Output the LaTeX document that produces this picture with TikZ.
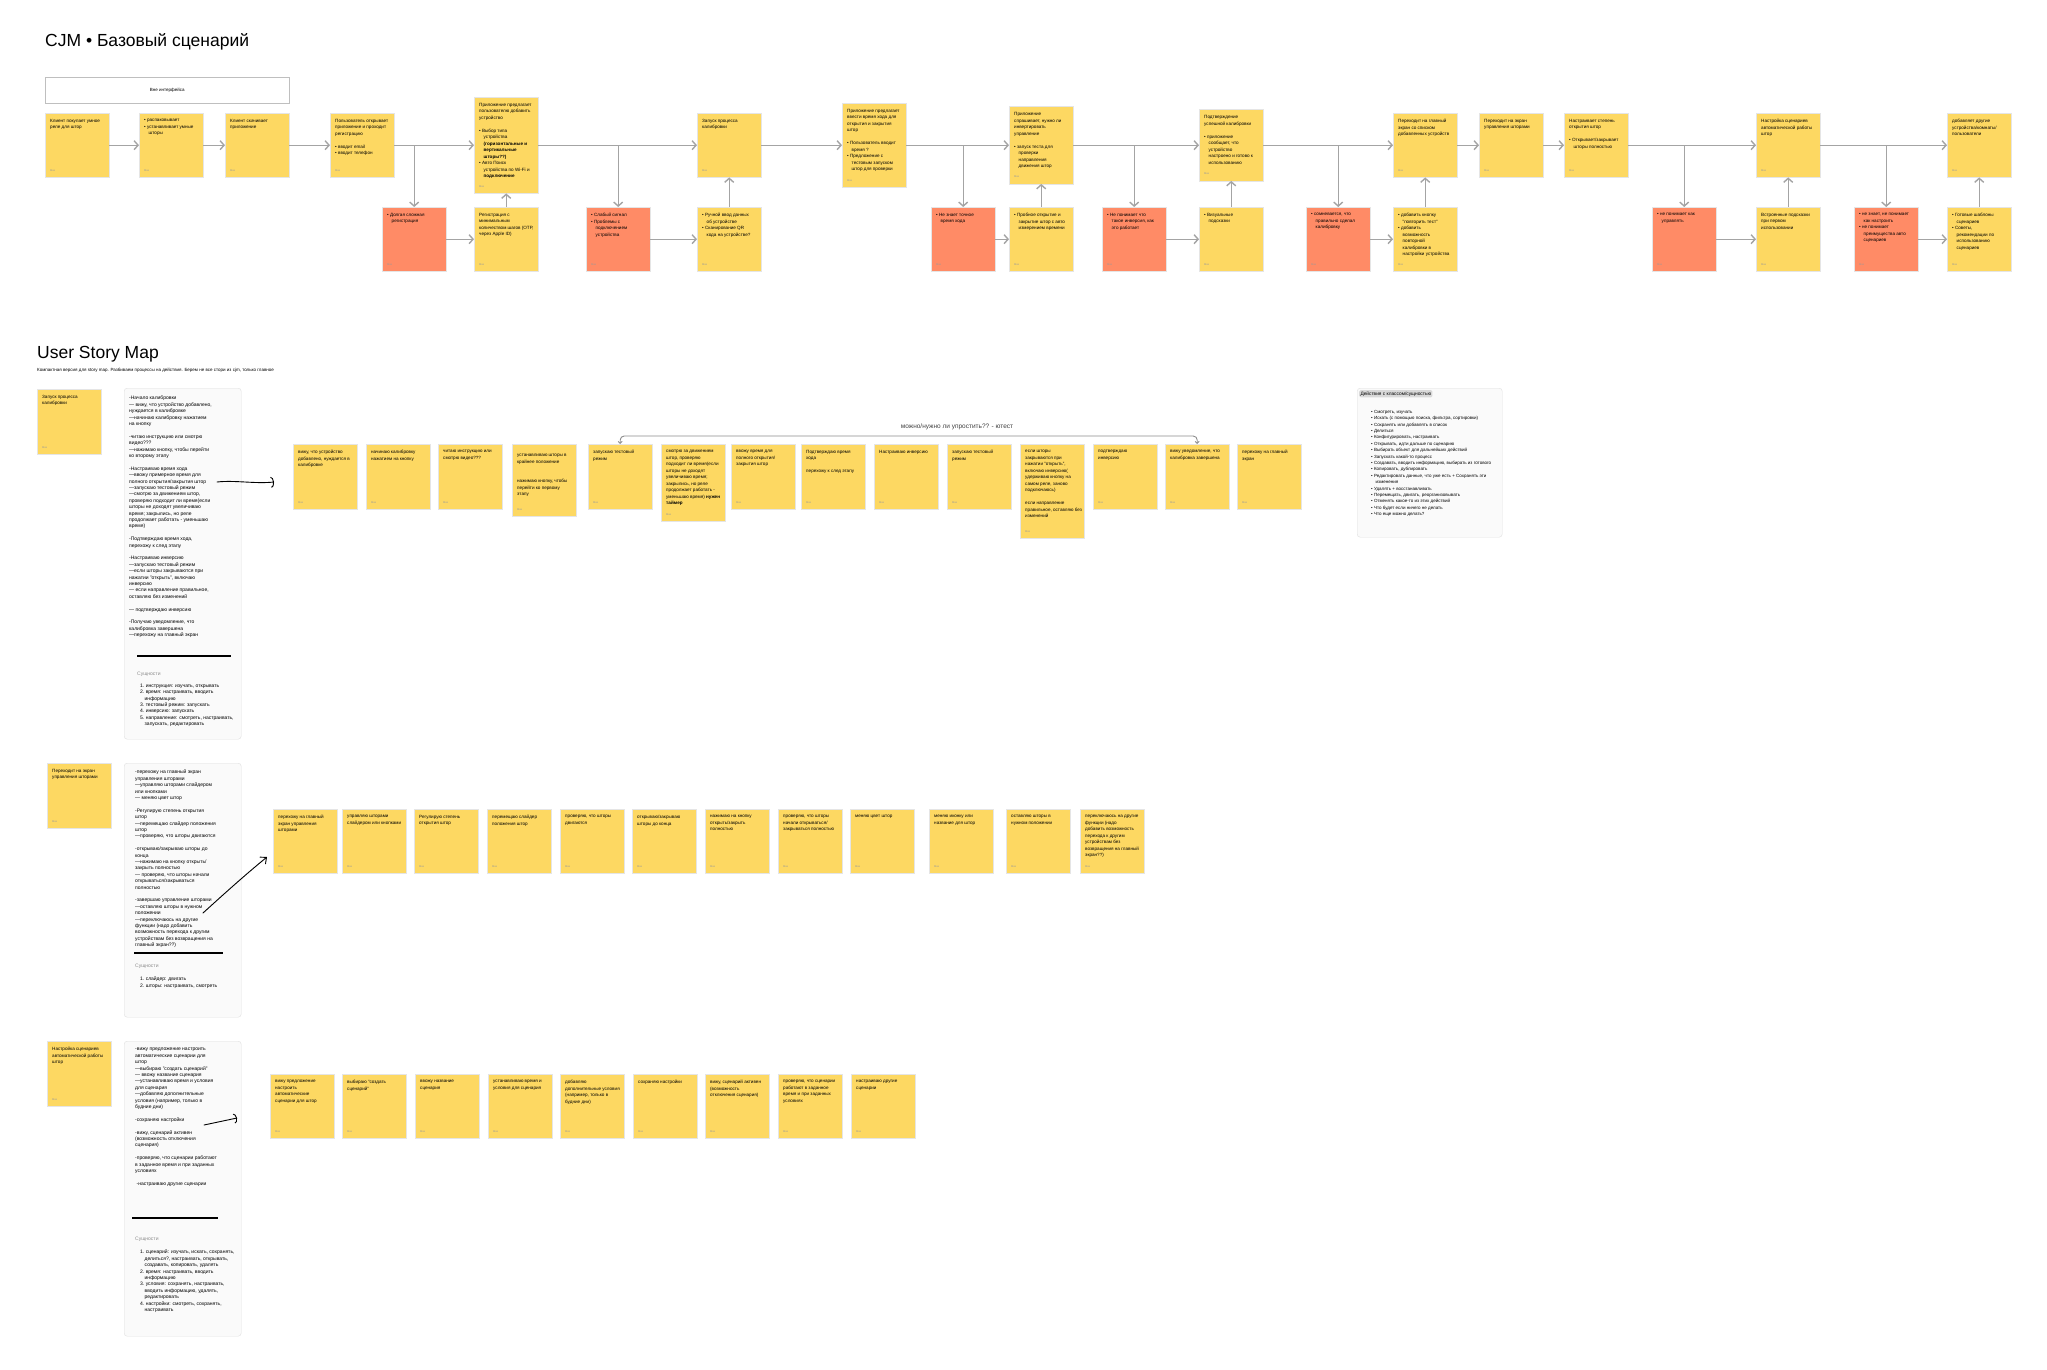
\documentclass[tikz,border=0pt]{standalone}
\usepackage{fontspec}
\setmainfont{Liberation Sans}
\usetikzlibrary{arrows.meta}
\definecolor{stky}{HTML}{FDD862}
\definecolor{redst}{HTML}{FF8B66}
\definecolor{arw}{HTML}{A4A4A4}
\definecolor{pnl}{HTML}{FAFAFA}
\newcommand{\ind}{\hspace*{4.5pt}}
\begin{document}
\begin{tikzpicture}[x=1pt,y=-1pt,
  st/.style={anchor=north west,fill=stky,draw=black!10,minimum width=64pt,minimum height=#1,inner sep=0pt,label={[tg]south west:Max}},
  st/.default=64pt,
  rd/.style={st,fill=redst},
  sm/.style={st=65pt},
  tx/.style={anchor=north west,align=left,inner sep=0pt,xshift=5pt,yshift=-6pt,font=\fontsize{4.6}{6.5}\selectfont},
  tg/.style={anchor=south west,inner sep=0pt,xshift=5pt,yshift=6pt,text=black!40,font=\fontsize{2.6}{3}\selectfont},
  ar/.style={draw=arw,line width=1.4pt,-{Straight Barb[length=4pt,width=9pt]}},
  pn/.style={anchor=north west,fill=pnl,draw=black!12,rounded corners=3pt,minimum width=117pt,inner sep=0pt,minimum height=#1},
  pt/.style={anchor=north west,align=left,inner sep=0pt,font=\fontsize{5}{6.4}\selectfont},
  hd/.style={line width=.9pt,line cap=round},
  rl/.style={line width=1.6pt}]
\fill[white] (0,0) rectangle (2047,1370);
\useasboundingbox (0,0) rectangle (2047,1370);

% CJM
\node[anchor=base west,inner sep=0pt,font=\fontsize{17.5}{20}\selectfont] (ttl) at (45,47) {CJM • Базовый сценарий};
\node[anchor=north west,draw=black!25,minimum width=244pt,minimum height=26pt,inner sep=0pt,font=\fontsize{4.5}{5}\selectfont] (vi) at (45,77) {Вне интерфейса};

\node[st] (c1) at (45,113) {}; \draw (c1.north west) node[tx] {Клиент покупает умное\\реле для штор};
\node[st] (c2) at (139,113) {}; \draw (c2.north west) node[tx] {• распаковывает\\• устанавливает умные\\\ind шторы};
\node[st] (c3) at (225,113) {}; \draw (c3.north west) node[tx] {Клиент скачивает\\приложение};
\node[st] (c4) at (330,113) {}; \draw (c4.north west) node[tx] {Пользователь открывает\\приложение и проходит\\регистрацию\\[6.5pt]• вводит email\\• вводит телефон};
\node[st=96pt] (c5) at (474,97) {}; \draw (c5.north west) node[tx] {Приложение предлагает\\пользователю добавить\\устройство\\[6.5pt]• Выбор типа\\\ind устройства\\\ind\textbf{(горизонтальные и}\\\ind\textbf{вертикальные}\\\ind\textbf{шторы??)}\\• Авто Поиск\\\ind устройства по Wi-Fi и\\\ind\textbf{подключение}};
\node[st] (c6) at (697,113) {}; \draw (c6.north west) node[tx] {Запуск процесса\\калибровки};
\node[st=84pt] (c7) at (842,103) {}; \draw (c7.north west) node[tx] {Приложение предлагает\\ввести время хода для\\открытия и закрытия\\штор\\[6.5pt]• Пользователь вводит\\\ind время ?\\• Предложение с\\\ind тестовым запуском\\\ind штор для проверки};
\node[st=77pt] (c8) at (1009,106.5) {}; \draw (c8.north west) node[tx] {Приложение\\спрашивает, нужно ли\\инвертировать\\управление\\[6.5pt]• запуск теста для\\\ind проверки\\\ind направления\\\ind движения штор};
\node[st=71pt] (c9) at (1199,109.5) {}; \draw (c9.north west) node[tx] {Подтверждение\\успешной калибровки\\[6.5pt]• приложение\\\ind сообщает, что\\\ind устройство\\\ind настроено и готово к\\\ind использованию};
\node[st] (c10) at (1393,113) {}; \draw (c10.north west) node[tx] {Переходит на главный\\экран со списком\\добавленных устройств};
\node[st] (c11) at (1479,113) {}; \draw (c11.north west) node[tx] {Переходит на экран\\управления шторами};
\node[st] (c12) at (1564,113) {}; \draw (c12.north west) node[tx] {Настраивает степень\\открытия штор\\[6.5pt]• Открывает/закрывает\\\ind шторы полностью};
\node[st] (c13) at (1756,113) {}; \draw (c13.north west) node[tx] {Настройка сценариев\\автоматической работы\\штор};
\node[st] (c14) at (1947,113) {}; \draw (c14.north west) node[tx] {добавляет другие\\устройства/комнаты/\\пользователи};

\node[rd] (r1) at (382,207) {}; \draw (r1.north west) node[tx] {• Долгая сложная\\\ind регистрация};
\node[st] (y1) at (474,207) {}; \draw (y1.north west) node[tx] {Регистрация с\\минимальным\\количеством шагов (OTP,\\через Apple ID)};
\node[rd] (r2) at (586,207) {}; \draw (r2.north west) node[tx] {• Слабый сигнал\\• Проблемы с\\\ind подключением\\\ind устройства};
\node[st] (y2) at (697,207) {}; \draw (y2.north west) node[tx] {• Ручной ввод данных\\\ind об устройстве\\• Сканирование QR\\\ind кода на устройстве?};
\node[rd] (r3) at (931,207) {}; \draw (r3.north west) node[tx] {• Не знает точное\\\ind время хода};
\node[st] (y3) at (1009,207) {}; \draw (y3.north west) node[tx] {• Пробное открытие и\\\ind закрытие штор с авто\\\ind измерением времени};
\node[rd] (r4) at (1102,207) {}; \draw (r4.north west) node[tx] {• Не понимает что\\\ind такое инверсия, как\\\ind это работает};
\node[st] (y4) at (1199,207) {}; \draw (y4.north west) node[tx] {• Визуальные\\\ind подсказки};
\node[rd] (r5) at (1306,207) {}; \draw (r5.north west) node[tx] {• сомневается, что\\\ind правильно сделал\\\ind калибровку};
\node[st] (y5) at (1393,207) {}; \draw (y5.north west) node[tx] {• добавить кнопку\\\ind "повторить тест"\\• добавить\\\ind возможность\\\ind повторной\\\ind калибровки в\\\ind настройки устройства};
\node[rd] (r6) at (1652,207) {}; \draw (r6.north west) node[tx] {• не понимает как\\\ind управлять};
\node[st] (y6) at (1756,207) {}; \draw (y6.north west) node[tx] {Встроенные подсказки\\при первом\\использовании};
\node[rd] (r7) at (1854,207) {}; \draw (r7.north west) node[tx] {• не знает, не понимает\\\ind как настроить\\• не понимает\\\ind преимущества авто\\\ind сценариев};
\node[st] (y7) at (1947,207) {}; \draw (y7.north west) node[tx] {• Готовые шаблоны\\\ind сценариев\\• Советы,\\\ind рекомендации по\\\ind использованию\\\ind сценариев};

\foreach \a/\b in {c1/c2,c2/c3,c3/c4,c4/c5,c5/c6,c6/c7,c7/c8,c8/c9,c9/c10,c10/c11,c11/c12,c12/c13,c13/c14}
  \draw[ar] (\a) -- (\b);
\foreach \a/\r/\y/\b in {c4/r1/y1/c5,c5/r2/y2/c6,c7/r3/y3/c8,c8/r4/y4/c9,c9/r5/y5/c10,c12/r6/y6/c13,c13/r7/y7/c14}{
  \draw[ar] (\r.north |- \a.east) -- (\r);
  \draw[ar] (\r) -- (\y);
  \draw[ar] (\y) -- (\b);
}

% User Story Map
\node[anchor=base west,inner sep=0pt,font=\fontsize{17.5}{20}\selectfont] (usm) at (37,358) {User Story Map};
\node[anchor=base west,inner sep=0pt,font=\fontsize{4.5}{5}\selectfont] (sub) at (37,371) {Компактная версия для story map. Разбиваем процессы на действия. Берем не все стори из cjm, только главное};

\node[sm] (a0) at (37,389) {}; \draw (a0.north west) node[tx] {Запуск процесса\\калибровки};
\node[pn=351pt] (p1) at (124,388) {};
\draw (p1.north west) ++(5,8) node[pt] {-Начало калибровки\\— вижу, что устройство добавлено,\\нуждается в калибровке\\—начинаю калибровку нажатием\\на кнопку\\[6.4pt]-читаю инструкцию или смотрю\\видео???\\—нажимаю кнопку, чтобы перейти\\ко второму этапу\\[6.4pt]-Настраиваю время хода\\—ввожу примерное время для\\полного открытия/закрытия штор\\—запускаю тестовый режим\\—смотрю за движением штор,\\проверяю подходит ли время(если\\шторы не доходят увеличиваю\\время; закрылись, но реле\\продолжает работать - уменьшаю\\время)\\[6.4pt]-Подтверждаю время хода,\\перехожу к след этапу\\[6.4pt]-Настраиваю инверсию\\—запускаю тестовый режим\\—если шторы закрываются при\\нажатии "открыть", включаю\\инверсию\\— если направление правильное,\\оставляю без изменений\\[6.4pt]— подтверждаю инверсию\\[6.4pt]-Получаю уведомление, что\\калибровка завершена\\—перехожу на главный экран};
\draw[rl] (137,656) -- (231,656);
\node[pt,text=black!45] (e1) at (137,672) {Сущности};
\node[pt,font=\fontsize{5}{6.3}\selectfont] (l1) at (140,684) {1.\ инструкция: изучать, открывать\\2.\ время: настраивать, вводить\\\ind информацию\\3.\ тестовый режим: запускать\\4.\ инверсию: запускать\\5.\ направление: смотреть, настраивать,\\\ind запускать, редактировать};
\coordinate (h1a) at (217,482); \coordinate (h1b) at (274,482);
\draw[hd,-{Arc Barb[length=3pt,width=11pt]}] (h1a) .. controls (235,480) and (255,484) .. (h1b);

\node[sm] (s1) at (293,444) {}; \draw (s1.north west) node[tx] {вижу, что устройство\\добавлено, нуждается в\\калибровке};
\node[sm] (s2) at (366,444) {}; \draw (s2.north west) node[tx] {начинаю калибровку\\нажатием на кнопку};
\node[sm] (s3) at (438,444) {}; \draw (s3.north west) node[tx] {читаю инструкцию или\\смотрю видео???};
\node[st=72pt] (s4) at (512,444) {}; \draw (s4.north west) node[tx] {\\устанавливаю шторы в\\крайнее положение\\[13pt]нажимаю кнопку, чтобы\\перейти ко первому\\этапу};
\node[sm] (s5) at (588,444) {}; \draw (s5.north west) node[tx] {запускаю тестовый\\режим};
\node[st=77pt] (s6) at (661,444) {}; \draw (s6.north west) node[tx] {смотрю за движением\\штор, проверяю\\подходит ли время(если\\шторы не доходят\\увеличиваю время;\\закрылись, но реле\\продолжает работать -\\уменьшаю время) \textbf{нужен}\\\textbf{таймер}};
\node[sm] (s7) at (731,444) {}; \draw (s7.north west) node[tx] {ввожу время для\\полного открытия/\\закрытия штор};
\node[sm] (s8) at (801,444) {}; \draw (s8.north west) node[tx] {Подтверждаю время\\хода\\[6.5pt]перехожу к след этапу};
\node[sm] (s9) at (874,444) {}; \draw (s9.north west) node[tx] {Настраиваю инверсию};
\node[sm] (s10) at (947,444) {}; \draw (s10.north west) node[tx] {запускаю тестовый\\режим};
\node[st=94pt] (s11) at (1020,444) {}; \draw (s11.north west) node[tx] {если шторы\\закрываются при\\нажатии "открыть",\\включаю инверсию(\\удерживаю кнопку на\\самом реле, заново\\подключаюсь)\\[6.5pt]если направление\\правильное, оставляю без\\изменений};
\node[sm] (s12) at (1093,444) {}; \draw (s12.north west) node[tx] {подтверждаю\\инверсию};
\node[sm] (s13) at (1165,444) {}; \draw (s13.north west) node[tx] {вижу уведомление, что\\калибровка завершена};
\node[sm] (s14) at (1237,444) {}; \draw (s14.north west) node[tx] {перехожу на главный\\экран};
\draw[draw=black!45,line width=.9pt,rounded corners=4pt,{Straight Barb[length=2pt,width=4pt]}-{Straight Barb[length=2pt,width=4pt]}] (s5.north) -- ++(0,-8) -| (s13.north);
\node[font=\fontsize{6.5}{7}\selectfont,text=black!75] (bl) at (957,427) {можно/нужно ли упростить?? - ютест};

\node[anchor=north west,fill=pnl,draw=black!12,rounded corners=3pt,minimum width=145pt,minimum height=149pt,inner sep=0pt] (p4) at (1357,388) {};
\node[anchor=north west,fill=black!15,rounded corners=1.5pt,inner sep=1.3pt,font=\fontsize{4.8}{5}\selectfont] (hd4) at (1359,390) {Действия с классом/сущностью};
\node[pt,font=\fontsize{4.5}{6.4}\selectfont] (l4) at (1371,410) {• Смотреть, изучать\\• Искать (с помощью поиска, фильтра, сортировки)\\• Сохранять или добавлять в список\\• Делиться\\• Конфигурировать, настраивать\\• Открывать, идти дальше по сценарию\\• Выбирать объект для дальнейших действий\\• Запускать какой-то процесс\\• Создавать, вводить информацию, выбирать из готового\\• Копировать, дублировать\\• Редактировать данные, что уже есть + Сохранять эти\\\ind изменения\\• Удалять + восстанавливать\\• Перемещать, двигать, реорганизовывать\\• Отменять какое-то из этих действий\\• Что будет если ничего не делать\\• Что еще можно делать?};

% second block
\node[sm] (b0) at (47,763) {}; \draw (b0.north west) node[tx] {Переходит на экран\\управления шторами};
\node[pn=254pt] (p2) at (124,763) {};
\draw (p2.north west) ++(11,7) node[pt] {-перехожу на главный экран\\управления шторами\\—управляю шторами слайдером\\или кнопками\\— меняю цвет штор\\[6.4pt]-Регулирую степень открытия\\штор\\—перемещаю слайдер положения\\штор\\—проверяю, что шторы двигаются\\[6.4pt]-открываю/закрываю шторы до\\конца\\—нажимаю на кнопку открыть/\\закрыть полностью\\— проверяю, что шторы начали\\открываться/закрываться\\полностью\\[6.4pt]-завершаю управление шторами\\—оставляю шторы в нужном\\положении\\—переключаюсь на другие\\функции (надо добавить\\возможность перехода к другим\\устройствам без возвращения на\\главный экран??)};
\draw[rl] (134,953) -- (223,953);
\node[pt,text=black!45] (e2) at (135,964) {Сущности};
\node[pt,font=\fontsize{5}{6.3}\selectfont] (l2) at (140,977) {1.\ слайдер: двигать\\2.\ шторы: настраивать, смотреть};
\coordinate (h2a) at (203,913); \coordinate (h2b) at (267,857);
\draw[hd,-{Straight Barb[length=5pt,width=9pt]}] (h2a) .. controls (225,893) and (245,875) .. (h2b);

\node[st=64pt] (m1) at (273,809) {}; \draw (m1.north west) node[tx] {перехожу на главный\\экран управления\\шторами};
\node[st=64pt] (m2) at (342,809) {}; \draw (m2.north west) node[tx] {управляю шторами\\слайдером или кнопками};
\node[st=64pt] (m3) at (414,809) {}; \draw (m3.north west) node[tx] {Регулирую степень\\открытия штор};
\node[st=64pt] (m4) at (487,809) {}; \draw (m4.north west) node[tx] {перемещаю слайдер\\положения штор};
\node[st=64pt] (m5) at (560,809) {}; \draw (m5.north west) node[tx] {проверяю, что шторы\\двигаются};
\node[st=64pt] (m6) at (632,809) {}; \draw (m6.north west) node[tx] {открываю/закрываю\\шторы до конца};
\node[st=64pt] (m7) at (705,809) {}; \draw (m7.north west) node[tx] {нажимаю на кнопку\\открыть/закрыть\\полностью};
\node[st=64pt] (m8) at (778,809) {}; \draw (m8.north west) node[tx] {проверяю, что шторы\\начали открываться/\\закрываться полностью};
\node[st=64pt] (m9) at (850,809) {}; \draw (m9.north west) node[tx] {меняю цвет штор};
\node[st=64pt] (m10) at (929,809) {}; \draw (m10.north west) node[tx] {меняю иконку или\\название для штор};
\node[st=64pt] (m11) at (1006,809) {}; \draw (m11.north west) node[tx] {оставляю шторы в\\нужном положении};
\node[st=64pt] (m12) at (1080,809) {}; \draw (m12.north west) node[tx] {переключаюсь на другие\\функции (надо\\добавить возможность\\перехода к другим\\устройствам без\\возвращения на главный\\экран??)};

% third block
\node[sm] (d0) at (47,1041) {}; \draw (d0.north west) node[tx] {Настройка сценариев\\автоматической работы\\штор};
\node[pn=295pt] (p3) at (124,1041) {};
\draw (p3.north west) ++(11,7) node[pt] {-вижу предложение настроить\\автоматические сценарии для\\штор\\—выбираю "создать сценарий"\\— ввожу название сценария\\—устанавливаю время и условия\\для сценария\\—добавляю дополнительные\\условия (например, только в\\будние дни)\\[6.4pt]-сохраняю настройки\\[6.4pt]-вижу, сценарий активен\\(возможность отключения\\сценария)\\[6.4pt]-проверяю, что сценарии работают\\в заданное время и при заданных\\условиях\\[6.4pt]\ -настраиваю другие сценарии};
\draw[rl] (132,1218) -- (218,1218);
\node[pt,text=black!45] (e3) at (135,1237) {Сущности};
\node[pt,font=\fontsize{5}{6.4}\selectfont] (l3) at (140,1250) {1.\ сценарий: изучать, искать, сохранять,\\\ind делиться?, настраивать, открывать,\\\ind создавать, копировать, удалять\\2.\ время: настраивать, вводить\\\ind информацию\\3.\ условия: сохранять, настраивать,\\\ind вводить информацию, удалять,\\\ind редактировать\\4.\ настройки: смотреть, сохранять,\\\ind настраивать};
\coordinate (h3a) at (204,1125); \coordinate (h3b) at (237,1118);
\draw[hd,-{Arc Barb[length=3pt,width=10pt]}] (h3a) -- (h3b);

\node[st=64pt] (n1) at (270,1074) {}; \draw (n1.north west) node[tx] {вижу предложение\\настроить\\автоматические\\сценарии для штор};
\node[st=64pt] (n2) at (342,1074) {}; \draw (n2.north west) node[tx] {выбираю "создать\\сценарий"};
\node[st=64pt] (n3) at (415,1074) {}; \draw (n3.north west) node[tx] {ввожу название\\сценария};
\node[st=64pt] (n4) at (488,1074) {}; \draw (n4.north west) node[tx] {устанавливаю время и\\условия для сценария};
\node[st=64pt] (n5) at (560,1074) {}; \draw (n5.north west) node[tx] {добавляю\\дополнительные условия\\(например, только в\\будние дни)};
\node[st=64pt] (n6) at (633,1074) {}; \draw (n6.north west) node[tx] {сохраняю настройки};
\node[st=64pt] (n7) at (705,1074) {}; \draw (n7.north west) node[tx] {вижу, сценарий активен\\(возможность\\отключения сценария)};
\node[st=64pt] (n8) at (778,1074) {}; \draw (n8.north west) node[tx] {проверяю, что сценарии\\работают в заданное\\время и при заданных\\условиях};
\node[st=64pt] (n9) at (851,1074) {}; \draw (n9.north west) node[tx] {настраиваю другие\\сценарии};
\end{tikzpicture}
\end{document}
